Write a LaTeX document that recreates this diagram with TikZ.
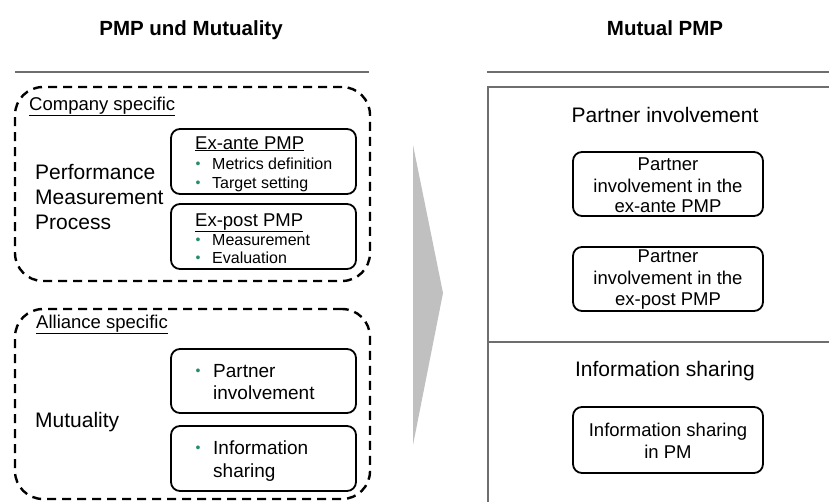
\documentclass[tikz,border=0pt]{standalone}
\usepackage{fontspec}
\setmainfont{Liberation Sans}
\definecolor{bulletgreen}{RGB}{40,140,105}
\definecolor{rulegray}{RGB}{110,110,110}
\definecolor{arrowgray}{RGB}{192,192,192}
\tikzset{
  dashbox/.style={draw, line width=2.4pt, dash pattern=on 9pt off 6pt, rounded corners=28pt, minimum width=355pt, inner sep=0pt},
  solidbox/.style={draw, line width=1.8pt, rounded corners=9pt, inner sep=0pt},
  rulel/.style={draw=rulegray, line width=1.2pt},
  txt/.style={inner sep=0pt, anchor=base west},
  ctxt/.style={inner sep=0pt, anchor=base},
  big/.style={font=\fontsize{21}{25}\selectfont},
  mid/.style={font=\fontsize{18.5}{22}\selectfont},
  small/.style={font=\fontsize{16}{19}\selectfont},
  ttl/.style={font=\fontsize{20.5}{24}\selectfont\bfseries},
  bul/.style={inner sep=0pt, anchor=base, text=bulletgreen, font=\fontsize{14}{16}\selectfont},
}
\begin{document}
\begin{tikzpicture}[x=1pt,y=-1pt]
\useasboundingbox (0,0) rectangle (829,501);
\clip (0,0) rectangle (829,501);
% titles
\node[ctxt,ttl] (t1) at (191,35) {PMP und Mutuality};
\node[ctxt,ttl] (t2) at (665,35) {Mutual PMP};
% header rules
\coordinate (l1a) at (15,72); \coordinate (l1b) at (369,72);
\coordinate (l2a) at (487,72); \coordinate (l2b) at (830,72);
\draw[rulel] (l1a) -- (l1b);
\draw[rulel] (l2a) -- (l2b);
% right frame
\coordinate (ra) at (488,87); \coordinate (rb) at (831,87);
\coordinate (rc) at (488,503); \coordinate (rd) at (488,342); \coordinate (re) at (831,342);
\draw[rulel] (rb) -- (ra) -- (rc);
\draw[rulel] (rd) -- (re);
% grey arrow
\fill[arrowgray] (413,145) -- (443,293) -- (413,445) -- cycle;
% dashed groups
\node[dashbox, minimum height=194pt] (g1) at (192.5,184) {};
\node[dashbox, minimum height=190pt] (g2) at (192.5,404) {};
% company specific
\node[txt,mid] (cs) at (29,110) {\underline{Company specific}};
\node[txt,big] (pm1) at (35,179) {Performance};
\node[txt,big] (pm2) at (35,204) {Measurement};
\node[txt,big] (pm3) at (35,229) {Process};
\node[solidbox, minimum width=185pt, minimum height=65pt] (exa) at (263.5,161.5) {};
\node[solidbox, minimum width=185pt, minimum height=65pt] (exp) at (263.5,236.5) {};
\node[txt,mid] (exat) at (195,149) {\underline{Ex-ante PMP}};
\node[bul] (b1) at (198,168) {•};
\node[txt,small] (exa1) at (212,169) {Metrics definition};
\node[bul] (b2) at (198,187) {•};
\node[txt,small] (exa2) at (212,188) {Target setting};
\node[txt,mid] (expt) at (195,226) {\underline{Ex-post PMP}};
\node[bul] (b3) at (198,244) {•};
\node[txt,small] (exp1) at (212,245) {Measurement};
\node[bul] (b4) at (198,262) {•};
\node[txt,small] (exp2) at (212,263) {Evaluation};
% alliance specific
\node[txt,mid] (as) at (36,328) {\underline{Alliance specific}};
\node[txt,big] (mu) at (35,427) {Mutuality};
\node[solidbox, minimum width=185pt, minimum height=64pt] (pi) at (263.5,381) {};
\node[solidbox, minimum width=185pt, minimum height=65pt] (is) at (263.5,458.5) {};
\node[bul] (b5) at (198,375) {•};
\node[txt,font=\fontsize{19}{23}\selectfont] (pi1) at (213,377) {Partner};
\node[txt,font=\fontsize{19}{23}\selectfont] (pi2) at (213,399) {involvement};
\node[bul] (b6) at (198,452) {•};
\node[txt,font=\fontsize{19}{23}\selectfont] (is1) at (213,454) {Information};
\node[txt,font=\fontsize{19}{23}\selectfont] (is2) at (213,477) {sharing};
% right side
\node[ctxt,big] (rh1) at (665,122) {Partner involvement};
\node[solidbox, minimum width=190pt, minimum height=64pt] (r1) at (668,184) {};
\node[ctxt,mid] (r1a) at (668,170) {Partner};
\node[ctxt,mid] (r1b) at (668,192) {involvement in the};
\node[ctxt,mid] (r1c) at (668,212) {ex-ante PMP};
\node[solidbox, minimum width=190pt, minimum height=64pt] (r2) at (668,279) {};
\node[ctxt,mid] (r2a) at (668,262) {Partner};
\node[ctxt,mid] (r2b) at (668,284) {involvement in the};
\node[ctxt,mid] (r2c) at (668,305) {ex-post PMP};
\node[ctxt,big] (rh2) at (665,376) {Information sharing};
\node[solidbox, minimum width=190pt, minimum height=66pt] (r3) at (668,440) {};
\node[ctxt,mid] (r3a) at (668,436) {Information sharing};
\node[ctxt,mid] (r3b) at (668,458) {in PM};
\end{tikzpicture}
\end{document}
